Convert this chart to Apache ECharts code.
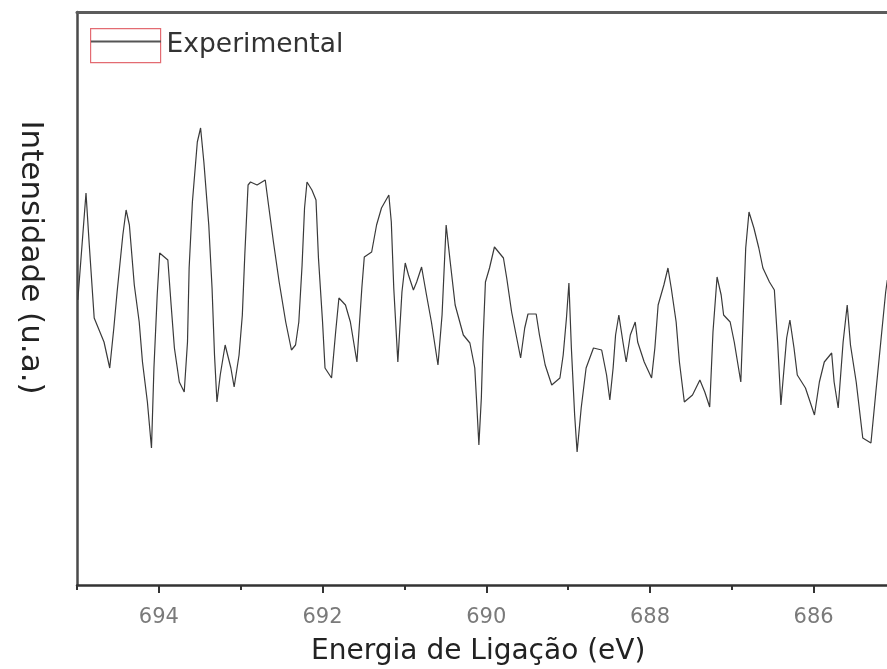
<!DOCTYPE html>
<html>
<head>
<meta charset="utf-8">
<script src="https://cdn.jsdelivr.net/npm/echarts@6/dist/echarts.min.js"></script>
<style>html,body{margin:0;padding:0;background:#fff}#c{width:887px;height:669px}</style>
</head>
<body>
<div id="c"></div>
<script>
// Binding energy (eV) and intensity (arbitrary units)
const energy = [694.99,694.89,694.85,694.79,694.67,694.60,694.55,694.51,694.44,694.40,694.36,694.30,694.24,694.20,694.14,694.09,694.06,694.02,693.99,693.89,693.85,693.81,693.75,693.69,693.65,693.63,693.59,693.53,693.49,693.45,693.39,693.35,693.32,693.29,693.25,693.19,693.12,693.08,693.02,692.98,692.95,692.91,692.88,692.80,692.70,692.66,692.60,692.53,692.45,692.38,692.33,692.29,692.25,692.22,692.19,692.13,692.08,692.05,692.00,691.97,691.89,691.84,691.80,691.72,691.66,691.58,691.52,691.49,691.40,691.34,691.28,691.19,691.16,691.13,691.08,691.03,690.99,690.95,690.89,690.85,690.79,690.73,690.67,690.59,690.54,690.49,690.44,690.38,690.28,690.20,690.14,690.12,690.09,690.06,690.04,690.01,689.96,689.90,689.79,689.75,689.69,689.58,689.53,689.49,689.39,689.35,689.28,689.20,689.10,689.06,689.02,688.99,688.96,688.92,688.89,688.84,688.78,688.69,688.59,688.53,688.49,688.45,688.42,688.38,688.33,688.29,688.24,688.18,688.15,688.07,687.98,687.94,687.90,687.83,687.78,687.74,687.68,687.64,687.58,687.48,687.39,687.33,687.27,687.23,687.18,687.13,687.10,687.02,686.97,686.89,686.86,686.83,686.79,686.73,686.67,686.62,686.54,686.48,686.44,686.40,686.33,686.29,686.24,686.20,686.10,685.99,685.93,685.87,685.78,685.75,685.70,685.64,685.59,685.55,685.48,685.40,685.30,685.24,685.18,685.12,685.10];
const intensity = [285,392,340,267,243,217,257,293,350,375,360,300,263,223,183,137,217,290,332,325,280,237,203,193,243,317,383,443,457,423,360,297,230,183,210,240,217,198,230,270,330,400,403,400,405,380,343,303,263,235,240,263,320,377,403,395,385,327,263,217,207,253,287,280,263,223,297,328,333,360,377,390,363,297,223,293,322,310,295,303,318,290,263,220,270,360,323,280,250,242,217,187,140,187,243,303,317,338,327,307,273,227,257,271,271,250,220,200,207,230,267,302,237,170,133,177,217,237,235,210,185,217,250,270,243,223,250,263,243,223,207,237,280,300,317,297,263,223,183,190,205,193,178,253,308,290,270,263,243,203,270,337,373,357,337,317,303,295,243,180,247,265,237,210,197,170,203,223,232,203,177,243,280,240,203,147,142,193,243,293,305];
const seriesName = 'Experimental';
const xTitle = 'Energia de Ligação (eV)';
const yTitle = 'Intensidade (u.a.)';
const labeledTicks = [686, 688, 690, 692, 694];

const unit = 81.85, L0 = 77, W = 887;
const chart = echarts.init(document.getElementById('c'), null, {renderer: 'canvas'});
chart.setOption({
  animation: false,
  backgroundColor: '#fff',
  grid: [
    {left: L0, right: W - (L0 + 10 * unit), top: 12, bottom: 84, outerBoundsMode: 'none', containLabel: false},
    {left: L0 - unit, right: W - (L0 + 11 * unit), top: 12, bottom: 84, outerBoundsMode: 'none', containLabel: false}
  ],
  legend: [
    {
      data: [seriesName], left: 90, top: 28, padding: 0, selectedMode: false,
      icon: 'rect', itemWidth: 70, itemHeight: 34, itemGap: 0,
      itemStyle: {color: 'rgba(0,0,0,0)', borderColor: '#e36b72', borderWidth: 1.2},
      textStyle: {fontFamily: 'DejaVu Sans', fontSize: 26.5, color: '#333', padding: [2,0,0,1]}
    },
    {
      data: [seriesName], left: 90, top: 28, padding: 0, selectedMode: false,
      itemWidth: 70, itemHeight: 34, itemGap: 0,
      itemStyle: {opacity: 0},
      lineStyle: {color: '#555', width: 2},
      textStyle: {fontFamily: 'DejaVu Sans', fontSize: 26.5, color: 'rgba(0,0,0,0)', padding: [2,0,0,1]}
    }
  ],
  xAxis: [
    {
      type: 'value', gridIndex: 0, min: 685, max: 695, interval: 2, inverse: true, position: 'bottom',
      axisLine: {show: true, lineStyle: {color: '#333', width: 2.5}},
      axisTick: {show: true, length: 5, lineStyle: {color: '#333', width: 2}},
      axisLabel: {show: false}, splitLine: {show: false},
      name: xTitle, nameLocation: 'middle', nameGap: 53,
      nameTextStyle: {fontFamily: 'DejaVu Sans', fontSize: 28, color: '#222', padding: [0, 16, 0, 0]}
    },
    {
      type: 'value', gridIndex: 0, min: 685, max: 695, inverse: true, position: 'top',
      axisLine: {show: true, lineStyle: {color: '#5c5c5c', width: 3}},
      axisTick: {show: false}, axisLabel: {show: false}, splitLine: {show: false}
    },
    {
      type: 'value', gridIndex: 1, min: 684, max: 696, interval: 2, inverse: true, position: 'bottom',
      axisLine: {show: false},
      axisTick: {show: true, length: 8, lineStyle: {color: '#333', width: 2}},
      axisLabel: {show: true, margin: 22, fontFamily: 'DejaVu Sans', fontSize: 21, color: '#7a7a7a',
        formatter: v => labeledTicks.indexOf(Math.round(v)) >= 0 ? String(Math.round(v)) : ''},
      splitLine: {show: false}
    }
  ],
  yAxis: [
    {
      type: 'value', gridIndex: 0, min: 0, max: 573, position: 'left',
      axisLine: {show: true, lineStyle: {color: '#4a4a4a', width: 2.5}},
      axisTick: {show: false}, axisLabel: {show: false}, splitLine: {show: false},
      name: yTitle, nameLocation: 'middle', nameRotate: -90, nameGap: 31,
      nameTextStyle: {fontFamily: 'DejaVu Sans', fontSize: 31, color: '#222', padding: [0, 82, 0, 0]}
    },
    {
      type: 'value', gridIndex: 1, min: 0, max: 573, show: false
    }
  ],
  series: [{
    name: seriesName, type: 'line', xAxisIndex: 0, yAxisIndex: 0,
    data: energy.map((e, i) => [e, intensity[i]]),
    symbol: 'none', lineStyle: {color: '#3a3a3a', width: 1.2}, itemStyle: {color: '#3a3a3a'}
  }]
});
</script>
</body>
</html>
